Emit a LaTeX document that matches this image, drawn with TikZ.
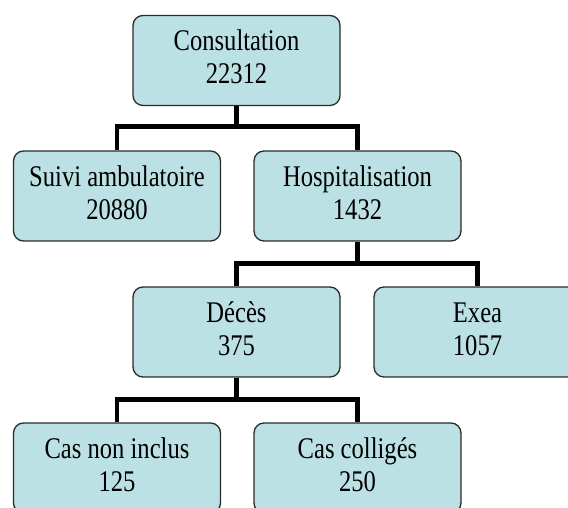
\documentclass[tikz,border=0pt]{standalone}
\usepackage{fontspec}
\setmainfont{Liberation Serif}[FakeStretch=0.82]
\usetikzlibrary{calc}
\definecolor{boxfill}{HTML}{BCE1E4}
\definecolor{boxline}{HTML}{2A2A2A}
\newcommand{\twolines}[2]{\raisebox{3pt}{\begin{tabular}{@{}c@{}}#1\\#2\end{tabular}}}
\tikzset{
  orgbox/.style={draw=boxline, line width=1.3pt, fill=boxfill, rounded corners=10pt,
    minimum width=207pt, minimum height=90pt, inner sep=0pt,
    font=\fontsize{30pt}{33pt}\selectfont},
  conn/.style={draw=black, line width=4.6pt, line join=miter}
}
\begin{document}
\begin{tikzpicture}[x=1pt,y=1pt]
\useasboundingbox (0,0) rectangle (568,508);
\clip (0,0) rectangle (568,508);
\fill[white] (0,0) rectangle (568,508);
\node[orgbox] (cons) at (236.5,447.5) {\twolines{Consultation}{22312}};
\node[orgbox] (suivi) at (117,312) {\twolines{Suivi ambulatoire}{20880}};
\node[orgbox] (hosp) at (357.5,312) {\twolines{Hospitalisation}{1432}};
\node[orgbox] (deces) at (236.5,176) {\twolines{Décès}{375}};
\node[orgbox] (exea) at (477.5,176) {\twolines{Exea}{1057}};
\node[orgbox] (nonincl) at (117,40) {\twolines{Cas non inclus}{125}};
\node[orgbox] (coll) at (357.5,40) {\twolines{Cas colligés}{250}};
\draw[conn] (cons.south) |- ($(suivi.north)+(0,24)$) -- (suivi.north);
\draw[conn] (cons.south) |- ($(hosp.north)+(0,24)$) -- (hosp.north);
\draw[conn] (hosp.south) |- ($(deces.north)+(0,23)$) -- (deces.north);
\draw[conn] (hosp.south) |- ($(exea.north)+(0,23)$) -- (exea.north);
\draw[conn] (deces.south) |- ($(nonincl.north)+(0,23)$) -- (nonincl.north);
\draw[conn] (deces.south) |- ($(coll.north)+(0,23)$) -- (coll.north);
\end{tikzpicture}
\end{document}
